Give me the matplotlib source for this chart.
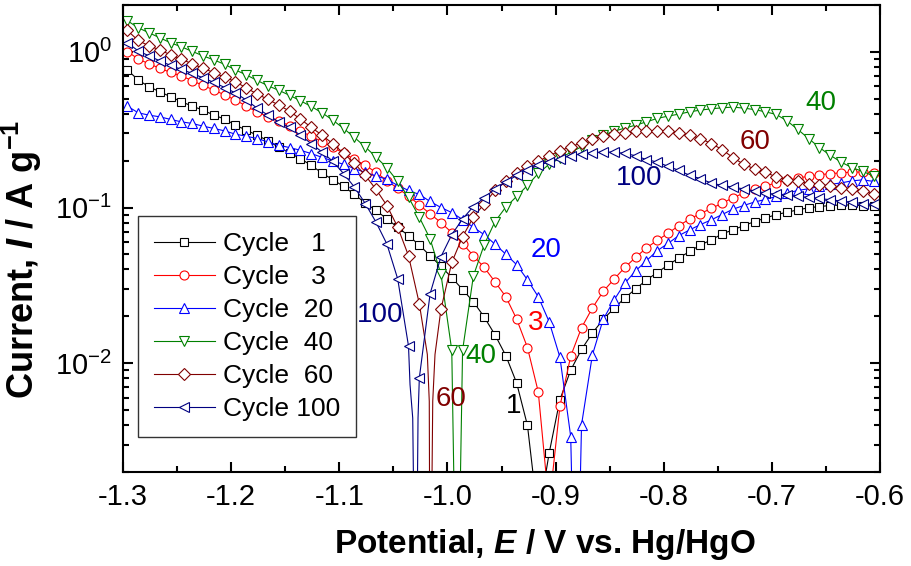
import numpy as np
import matplotlib
matplotlib.use('Agg')
import matplotlib.pyplot as plt
from matplotlib.lines import Line2D
from matplotlib.ticker import MultipleLocator, LogLocator, NullFormatter

# 字体设置 (Arial 兼容)
plt.rcParams['font.family'] = 'Liberation Sans'
plt.rcParams['mathtext.fontset'] = 'custom'
plt.rcParams['mathtext.rm'] = 'Liberation Sans'
plt.rcParams['mathtext.it'] = 'Liberation Sans:italic'
plt.rcParams['mathtext.bf'] = 'Liberation Sans:bold'
plt.rcParams['mathtext.bfit'] = 'Liberation Sans:italic:bold'
plt.rcParams['axes.unicode_minus'] = False

# 电位 (V vs. Hg/HgO), 每个标记点
potential = [-1.296, -1.286, -1.276, -1.266, -1.256, -1.246, -1.236, -1.226, -1.216, -1.206,
             -1.196, -1.186, -1.176, -1.166, -1.156, -1.146, -1.136, -1.126, -1.116, -1.106,
             -1.096, -1.086, -1.076, -1.066, -1.056, -1.046, -1.036, -1.026, -1.016, -1.006,
             -0.996, -0.986, -0.976, -0.966, -0.956, -0.946, -0.936, -0.926, -0.916, -0.906,
             -0.896, -0.886, -0.876, -0.866, -0.856, -0.846, -0.836, -0.826, -0.816, -0.806,
             -0.796, -0.786, -0.776, -0.766, -0.756, -0.746, -0.736, -0.726, -0.716, -0.706,
             -0.696, -0.686, -0.676, -0.666, -0.656, -0.646, -0.636, -0.626, -0.616, -0.606]

# 电流 (A/g)
cycle1 = [0.765, 0.660, 0.597, 0.554, 0.515, 0.478, 0.448, 0.422, 0.392, 0.370,
          0.338, 0.314, 0.2914, 0.2685, 0.2438, 0.2240, 0.2062, 0.1866, 0.1665, 0.1510,
          0.1366, 0.1213, 0.1069, 0.0957, 0.0845, 0.0746, 0.0660, 0.0573, 0.0490, 0.0419,
          0.0355, 0.0297, 0.0248, 0.0198, 0.0152, 0.01118, 0.00746, 0.00398, 0.0010, 0.00263,
          0.00583, 0.00902, 0.01226, 0.0156, 0.0191, 0.0225, 0.0262, 0.0300, 0.0342, 0.0382,
          0.0427, 0.0474, 0.0522, 0.0575, 0.0619, 0.0677, 0.0718, 0.0765, 0.0812, 0.0855,
          0.0901, 0.0932, 0.0966, 0.0996, 0.1015, 0.1030, 0.1038, 0.1038, 0.1030, 0.1022]
cycle3 = [1.004, 0.901, 0.837, 0.785, 0.737, 0.700, 0.653, 0.608, 0.569, 0.528,
          0.490, 0.448, 0.410, 0.384, 0.359, 0.336, 0.309, 0.287, 0.265, 0.244,
          0.223, 0.204, 0.187, 0.168, 0.149, 0.1327, 0.1187, 0.1038, 0.0911, 0.0800,
          0.0690, 0.0586, 0.0490, 0.0412, 0.0333, 0.0267, 0.0192, 0.0126, 0.00653, 0.0012,
          0.00528, 0.0111, 0.0169, 0.0226, 0.0289, 0.0346, 0.0412, 0.0478, 0.0550, 0.0615,
          0.0683, 0.0765, 0.0843, 0.0915, 0.0986, 0.1066, 0.1155, 0.1237, 0.1320, 0.1376,
          0.1439, 0.1493, 0.1550, 0.1585, 0.1625, 0.1650, 0.1670, 0.1689, 0.1689, 0.1670]
cycle20 = [0.448, 0.406, 0.392, 0.3825, 0.368, 0.355, 0.3467, 0.3331, 0.322, 0.3106,
           0.2958, 0.2871, 0.2774, 0.2638, 0.2512, 0.2427, 0.2332, 0.2221, 0.2101, 0.1989,
           0.1894, 0.1777, 0.1682, 0.1596, 0.1516, 0.1387, 0.1287, 0.1213, 0.1093, 0.1000,
           0.0928, 0.0837, 0.0746, 0.0669, 0.0581, 0.0501, 0.0429, 0.0343, 0.0267, 0.0185,
           0.01093, 0.00338, 0.00402, 0.01126, 0.0191, 0.0254, 0.0326, 0.0392, 0.0455, 0.0528,
           0.0588, 0.0660, 0.0718, 0.0777, 0.0833, 0.0901, 0.0975, 0.1030, 0.1085, 0.1126,
           0.1178, 0.1237, 0.1287, 0.1320, 0.1366, 0.1407, 0.1439, 0.1483, 0.1505, 0.1472]
cycle40 = [1.585, 1.428, 1.326, 1.231, 1.143, 1.077, 1.007, 0.942, 0.888, 0.831,
           0.765, 0.711, 0.655, 0.606, 0.566, 0.526, 0.485, 0.446, 0.406, 0.364,
           0.322, 0.282, 0.245, 0.211, 0.180, 0.147, 0.1165, 0.0866, 0.0628, 0.0373,
           0.0121, 0.0121, 0.0364, 0.0577, 0.0812, 0.1007, 0.1178, 0.1387, 0.1657, 0.1894,
           0.207, 0.2263, 0.2457, 0.2705, 0.2914, 0.3093, 0.3234, 0.3381, 0.355, 0.3735,
           0.3865, 0.398, 0.412, 0.4224, 0.4306, 0.437, 0.4416, 0.435, 0.4256, 0.412,
           0.3963, 0.3603, 0.3172, 0.2774, 0.2427, 0.2165, 0.196, 0.1803, 0.1707, 0.1592]
cycle60 = [1.372, 1.183, 1.093, 1.030, 0.956, 0.897, 0.837, 0.785, 0.735, 0.687,
           0.643, 0.586, 0.536, 0.495, 0.455, 0.416, 0.370, 0.328, 0.2914, 0.2569,
           0.2230, 0.1922, 0.1609, 0.1306, 0.1030, 0.0748, 0.0490, 0.0241, 0.0001, 0.0222,
           0.0444, 0.0650, 0.0866, 0.1056, 0.1287, 0.1472, 0.1670, 0.1838, 0.1980, 0.2150,
           0.2314, 0.2457, 0.2600, 0.2746, 0.2871, 0.2958, 0.3011, 0.3083, 0.3106, 0.3106,
           0.3092, 0.3015, 0.2914, 0.2774, 0.2576, 0.2356, 0.2092, 0.1894, 0.1771, 0.1689,
           0.1568, 0.1510, 0.1483, 0.1422, 0.1387, 0.1366, 0.1340, 0.1320, 0.1274, 0.1226]
cycle100 = [1.143, 1.015, 0.942, 0.875, 0.818, 0.771, 0.727, 0.680, 0.636, 0.590,
            0.544, 0.490, 0.435, 0.392, 0.355, 0.3267, 0.2914, 0.2576, 0.2274, 0.1980,
            0.1650, 0.1352, 0.1061, 0.0804, 0.0583, 0.0348, 0.01287, 0.00804, 0.0280, 0.0483,
            0.0669, 0.0845, 0.1015, 0.1155, 0.1320, 0.1456, 0.1609, 0.1745, 0.1866, 0.1960,
            0.2062, 0.2150, 0.2215, 0.2247, 0.2274, 0.2263, 0.2230, 0.2150, 0.2031, 0.1960,
            0.1838, 0.1733, 0.1609, 0.1532, 0.1435, 0.1387, 0.1352, 0.1316, 0.1278, 0.1240,
            0.1213, 0.1195, 0.1178, 0.1160, 0.1143, 0.1121, 0.1101, 0.1082, 0.1061, 0.1046]

# 腐蚀电位附近的曲线点 (只画线, 无标记)
dip1_E, dip1_I = [], []
dip3_E, dip3_I = [], []
dip20_E, dip20_I = [-0.8811], [1e-4]
dip40_E, dip40_I = [-0.9911], [1e-4]
dip60_E = [-1.0186, -1.0168, -1.0136, -1.0115]
dip60_I = [0.01138, 0.00569, 0.00569, 0.01138]
dip100_E = [-1.0346, -1.0321, -1.0293, -1.0272]
dip100_I = [0.00729, 0.00444, 1e-4, 0.00444]

labels = ['Cycle   1', 'Cycle   3', 'Cycle  20', 'Cycle  40', 'Cycle  60', 'Cycle 100']
colors = ['black', '#FF0000', '#0000FF', '#008000', '#800000', '#000080']
markers = ['s', 'o', '^', 'v', 'D', '<']
msizes = [6, 6.5, 7, 7, 6, 7]
currents = [cycle1, cycle3, cycle20, cycle40, cycle60, cycle100]
dips_E = [dip1_E, dip3_E, dip20_E, dip40_E, dip60_E, dip100_E]
dips_I = [dip1_I, dip3_I, dip20_I, dip40_I, dip60_I, dip100_I]

# 曲线旁的数字标注
note_text = ['40', '60', '100', '20', '3', '1', '40', '60', '100']
note_E = [-0.6545, -0.7156, -0.8224, -0.9088, -0.9186, -0.9384, -0.9694, -0.9967, -1.0623]
note_I = [0.469, 0.2626, 0.155, 0.0536, 0.0180, 0.00528, 0.0111, 0.00586, 0.0204]
note_color = ['#008000', '#800000', '#000080', '#0000FF', '#FF0000', 'black', '#008000', '#800000', '#000080']

fig = plt.figure(figsize=(9.12, 5.66), dpi=100)
ax = fig.add_axes([0.1349, 0.1661, 0.8300, 0.8251])

handles = []
for I, dE, dI, c, m, ms, lab in zip(currents, dips_E, dips_I, colors, markers, msizes, labels):
    # 线: 标记点 + 腐蚀电位附近的点
    E_all = np.array(potential + dE)
    I_all = np.array(I + dI)
    order = np.argsort(E_all)
    ax.plot(E_all[order], I_all[order], '-', color=c, lw=0.8)
    # 标记
    ax.plot(potential, I, ls='none', marker=m, ms=ms, mfc='white', mec=c, mew=0.8)
    handles.append(Line2D([], [], color=c, lw=0.8, marker=m, ms=ms, mfc='white', mec=c, mew=0.8))

for t, e, i, c in zip(note_text, note_E, note_I, note_color):
    ax.text(e, i, t, color=c, fontsize=20, ha='center', va='center')

ax.set_yscale('log')
ax.set_xlim(-1.3, -0.6)
ax.set_ylim(2e-3, 2)

ax.xaxis.set_major_locator(MultipleLocator(0.1))
ax.xaxis.set_minor_locator(MultipleLocator(0.05))
ax.yaxis.set_major_locator(LogLocator(base=10))
ax.yaxis.set_minor_locator(LogLocator(base=10, subs=np.arange(2, 10)))
ax.yaxis.set_minor_formatter(NullFormatter())
ax.set_xticks([-1.3, -1.2, -1.1, -1.0, -0.9, -0.8, -0.7, -0.6])
ax.set_xticklabels(['-1.3', '-1.2', '-1.1', '-1.0', '-0.9', '-0.8', '-0.7', '-0.6'])

ax.tick_params(which='both', direction='in', top=True, right=True, width=1.5, labelsize=21, pad=8)
ax.tick_params(which='major', length=7)
ax.tick_params(which='minor', length=4)
for s in ax.spines.values():
    s.set_linewidth(1.5)

ax.set_xlabel('Potential, $\\mathbfit{E}$ / V vs. Hg/HgO', fontsize=24, fontweight='bold')
ax.xaxis.set_label_coords(0.5575, -0.118)
ax.set_ylabel('Current, $\\mathbfit{I}$ / A g$^{\\mathbf{-1}}$', fontsize=26, fontweight='bold')
ax.yaxis.set_label_coords(-0.104, 0.455)

leg = ax.legend(handles, labels, loc='lower left', bbox_to_anchor=(0.0198, 0.075),
                fontsize=19, frameon=True, fancybox=False, edgecolor='black',
                handlelength=2.3, handletextpad=0.33, labelspacing=0.34, borderpad=0.6,
                borderaxespad=0)
leg.get_frame().set_linewidth(1.0)

fig.savefig('out.png', dpi=100)
